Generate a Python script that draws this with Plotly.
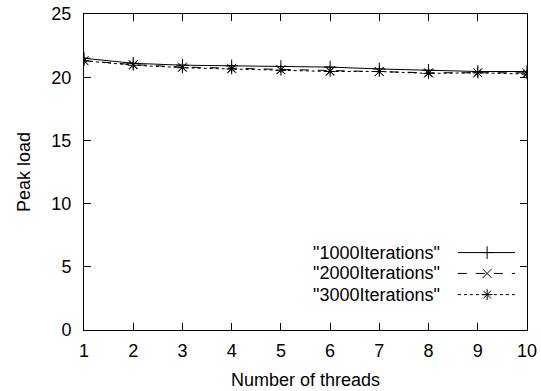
import plotly.graph_objects as go

threads = [1, 2, 3, 4, 5, 6, 7, 8, 9, 10]
it1000 = [21.5, 21.1, 20.95, 20.9, 20.85, 20.8, 20.65, 20.55, 20.45, 20.45]
it2000 = [21.3, 21.0, 20.8, 20.7, 20.6, 20.5, 20.45, 20.35, 20.35, 20.35]
it3000 = [21.3, 20.95, 20.75, 20.65, 20.55, 20.45, 20.45, 20.3, 20.35, 20.25]
names = ['"1000Iterations"', '"2000Iterations"', '"3000Iterations"']
series = [it1000, it2000, it3000]
dashes = ["solid", "dash", "dot"]
symbols = ["cross-thin-open", "x-thin-open", "asterisk-open"]

FONT = "Liberation Sans, Arial, sans-serif"
FS = 18
fig = go.Figure()
for ys, d, s in zip(series, dashes, symbols):
    fig.add_trace(go.Scatter(
        x=threads, y=ys, mode="lines+markers",
        line=dict(color="black", width=1, dash=d),
        marker=dict(symbol=s, size=9, color="black", line=dict(color="black", width=1)),
        showlegend=False))

# custom gnuplot-style legend (text left, sample right) on an overlay axis
leg_y = [0.245, 0.179, 0.112]
for i, (nm, d, s) in enumerate(zip(names, dashes, symbols)):
    fig.add_trace(go.Scatter(
        x=[0.844, 0.910, 0.973], y=[leg_y[i]] * 3, mode="lines",
        line=dict(color="black", width=1, dash=d), xaxis="x2", yaxis="y2",
        showlegend=False, hoverinfo="skip"))
    fig.add_trace(go.Scatter(
        x=[0.910], y=[leg_y[i]], mode="markers",
        marker=dict(symbol=s, size=9, color="black", line=dict(color="black", width=1)),
        xaxis="x2", yaxis="y2", showlegend=False, hoverinfo="skip"))
    fig.add_annotation(x=0.808, y=leg_y[i], xref="x2", yref="y2", text=nm,
                       showarrow=False, xanchor="right", yanchor="middle",
                       font=dict(family=FONT, size=FS, color="black"))

axis_common = dict(showgrid=False, zeroline=False, showline=True, linecolor="black",
                   linewidth=1, mirror="allticks", ticks="inside", ticklen=7,
                   tickcolor="black", automargin=False,
                   tickfont=dict(family=FONT, size=FS, color="black"))
fig.update_layout(
    width=541, height=391,
    margin=dict(l=84, r=14, t=14, b=61),
    paper_bgcolor="white", plot_bgcolor="white",
    xaxis=dict(range=[1, 10], tickvals=threads, ticklabelstandoff=4,
               title=dict(text="Number of threads", font=dict(family=FONT, size=FS, color="black"), standoff=13),
               **axis_common),
    yaxis=dict(range=[0, 25], tickvals=[0, 5, 10, 15, 20, 25], ticklabelstandoff=8,
               title=dict(text="Peak load", font=dict(family=FONT, size=FS, color="black"), standoff=16),
               **axis_common),
    xaxis2=dict(overlaying="x", range=[0, 1], visible=False, anchor="y2"),
    yaxis2=dict(overlaying="y", range=[0, 1], visible=False, anchor="x2"),
)
fig.write_html("out.html")
